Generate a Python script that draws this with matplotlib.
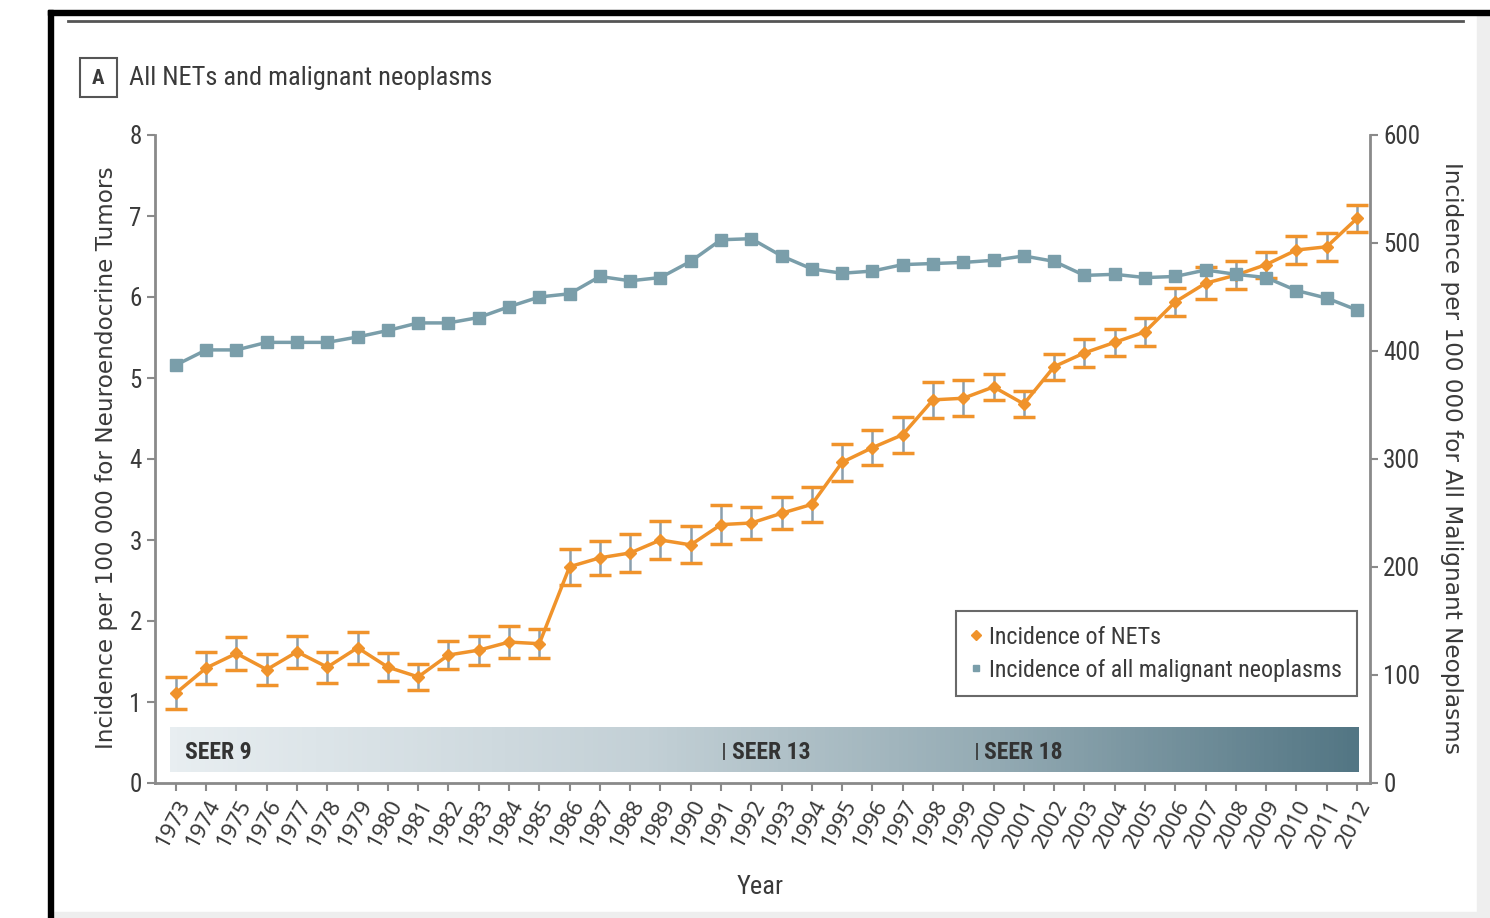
import numpy as np
import matplotlib
matplotlib.use("Agg")
import matplotlib.pyplot as plt
from matplotlib.colors import LinearSegmentedColormap
from matplotlib.lines import Line2D
from matplotlib.patches import Rectangle
from matplotlib.font_manager import FontProperties

# incidence per 100 000, 1973-2012
years = list(range(1973, 2013))
net_rate = [1.11, 1.42, 1.60, 1.40, 1.62, 1.43, 1.67, 1.43, 1.31, 1.58,
            1.64, 1.74, 1.72, 2.67, 2.78, 2.84, 3.00, 2.94, 3.19, 3.21,
            3.33, 3.44, 3.96, 4.14, 4.30, 4.73, 4.75, 4.89, 4.68, 5.14,
            5.31, 5.44, 5.57, 5.94, 6.17, 6.27, 6.40, 6.58, 6.62, 6.97]
net_err = [0.20, 0.20, 0.20, 0.19, 0.20, 0.19, 0.20, 0.17, 0.16, 0.17,
           0.18, 0.20, 0.18, 0.22, 0.21, 0.23, 0.24, 0.23, 0.24, 0.20,
           0.20, 0.22, 0.23, 0.22, 0.22, 0.22, 0.22, 0.16, 0.16, 0.16,
           0.17, 0.17, 0.17, 0.17, 0.20, 0.17, 0.16, 0.17, 0.17, 0.17]
malignant_rate = [387, 401, 401, 408, 408, 408, 413, 419, 426, 426,
                  431, 441, 450, 453, 469, 465, 468, 483, 503, 504,
                  488, 476, 472, 474, 480, 481, 482, 484, 488, 483,
                  470, 471, 468, 469, 475, 471, 468, 456, 449, 438]

seer_names = ["SEER 9", "SEER 13", "SEER 18"]
seer_start = [1973.3, 1991.1, 1999.45]

ORANGE = "#f0932b"
TEAL = "#7a9eaa"
TXT = "#3a3a3a"
AXC = "#8a8a8a"
narrow = ["Roboto Condensed", "DejaVu Sans"]


def cond(size, weight="normal"):
    return FontProperties(family=narrow, size=size, weight=weight, stretch="condensed")


fig = plt.figure(figsize=(14.9, 9.18), dpi=100)
W, H = 1490.0, 918.0


def fx(px):
    return px / W


def fy(py):
    return 1 - py / H


# page frame
fig.patches.append(Rectangle((fx(1477), 0), fx(13), fy(15), transform=fig.transFigure,
                             color="#eeeeee", zorder=0))
fig.patches.append(Rectangle((fx(53), 0), fx(1437), fy(912), transform=fig.transFigure,
                             color="#eeeeee", zorder=0))
fig.patches.append(Rectangle((fx(48), 0), fx(5), fy(10), transform=fig.transFigure,
                             color="black", zorder=1))
fig.patches.append(Rectangle((fx(48), fy(15)), fx(1442), fy(10) - fy(15), transform=fig.transFigure,
                             color="black", zorder=1))
fig.add_artist(Line2D([fx(68), fx(1463)], [fy(21), fy(21)], transform=fig.transFigure,
                      color="#555555", lw=2))

# panel label
fig.patches.append(Rectangle((fx(80), fy(97)), fx(37), fy(58) - fy(97), transform=fig.transFigure,
                             fill=False, ec="#555555", lw=1.5))
fig.text(fx(98.5), fy(78), "A", ha="center", va="center", fontproperties=cond(15, "bold"),
         color=TXT)
fig.text(fx(129), fy(78), "All NETs and malignant neoplasms", ha="left", va="center",
         fontproperties=cond(19), color=TXT)

ax = fig.add_axes([fx(155), fy(783), fx(1370) - fx(155), fy(135) - fy(783)])
ax2 = ax.twinx()

ax.set_xlim(1972.31, 2012.43)
ax.set_ylim(0, 8)
ax2.set_ylim(0, 600)

# SEER coverage band
cmap = LinearSegmentedColormap.from_list(
    "seer", [(0, "#e8eef1"), (0.4, "#c3d0d6"), (0.7, "#93aab3"), (1, "#537684")])
grad = np.linspace(0, 1, 256).reshape(1, -1)
ax.imshow(grad, cmap=cmap, aspect="auto", extent=(1972.8, 2012.05, 0.14, 0.69),
          zorder=1, interpolation="bicubic")
for i, (name, x0) in enumerate(zip(seer_names, seer_start)):
    if i > 0:
        ax.vlines(x0, 0.28, 0.5, color="#333333", lw=1.2, zorder=2)
        x0 = x0 + 0.25
    ax.text(x0, 0.38, name, ha="left", va="center", fontproperties=cond(17, "bold"),
            color="#333333", zorder=2)

# NET incidence with error bars
line, caps, bars = ax.errorbar(years, net_rate, yerr=net_err, color=ORANGE, lw=2.5,
                               marker="D", ms=6, ecolor="#8b9fad", elinewidth=1.8,
                               capsize=8, capthick=2.5, zorder=3)
for c in caps:
    c.set_markeredgecolor(ORANGE)

# all malignant neoplasms on the right scale
ax2.plot(years, malignant_rate, color=TEAL, lw=2.5, marker="s", ms=8, zorder=3)

ax.set_xticks(years)
ax.set_xticklabels([str(y) for y in years], rotation=62, ha="right", va="top",
                   rotation_mode="anchor", family="Noto Sans", fontsize=16, color=TXT)
ax.set_yticks(range(0, 9))
ax.set_yticklabels([str(v) for v in range(0, 9)], fontproperties=cond(18), color=TXT)
ax2.set_yticks(range(0, 601, 100))
ax2.set_yticklabels([str(v) for v in range(0, 601, 100)], fontproperties=cond(18), color=TXT)

for a in (ax, ax2):
    a.spines["top"].set_visible(False)
    for s in a.spines.values():
        s.set_color(AXC)
        s.set_linewidth(2)
    a.tick_params(colors=AXC, length=6, width=1.5, labelcolor=TXT)
ax.spines["right"].set_visible(False)
ax2.spines["left"].set_visible(False)
ax2.spines["bottom"].set_visible(False)
ax.tick_params(axis="x", pad=4)

fig.text(fx(107), fy(458), "Incidence per 100 000 for Neuroendocrine Tumors", rotation=90,
         ha="center", va="center", fontsize=16.7, color=TXT)
fig.text(fx(1451), fy(458), "Incidence per 100 000 for All Malignant Neoplasms", rotation=270,
         ha="center", va="center", fontsize=16.7, color=TXT)
fig.text(fx(760), fy(887), "Year", ha="center", va="center", fontproperties=cond(19),
         color=TXT)

handles = [Line2D([], [], color=ORANGE, marker="D", ms=5, ls="none"),
           Line2D([], [], color=TEAL, marker="s", ms=5, ls="none")]
leg = ax2.legend(handles, ["Incidence of NETs", "Incidence of all malignant neoplasms"],
                 loc="upper right", bbox_to_anchor=(0.989, 0.265), borderaxespad=0,
                 fancybox=False, handlelength=0.5, handletextpad=0.3,
                 prop=cond(17.3), labelcolor=TXT,
                 borderpad=0.6, labelspacing=0.42)
leg.get_frame().set_edgecolor("#444444")
leg.get_frame().set_linewidth(1.5)

fig.savefig("out.png", dpi=100)
